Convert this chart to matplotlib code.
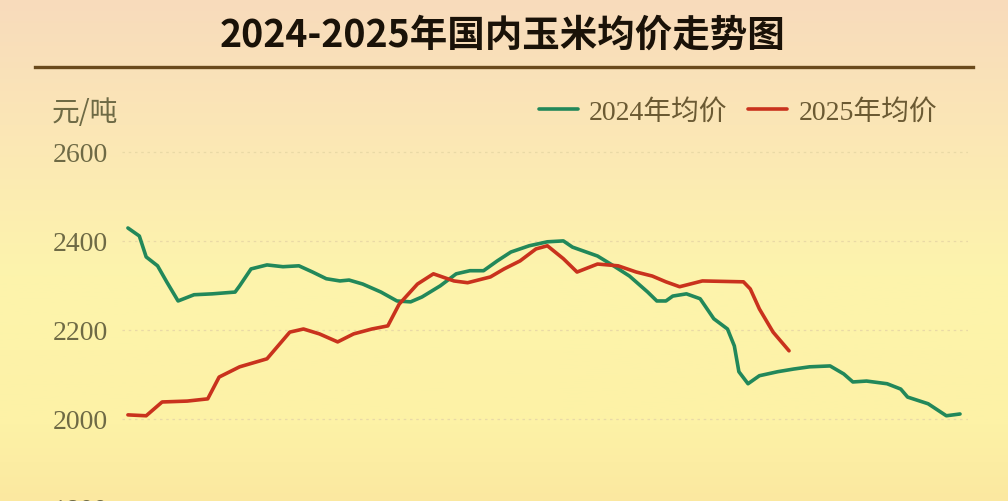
"""
2024-2025 domestic corn average price trend (元/吨), redrawn from a screenshot.
Days are day-of-year positions read off the picture; prices read against the y grid.
"""

import matplotlib
matplotlib.use("Agg")
import matplotlib.pyplot as plt
import numpy as np
from matplotlib.colors import LinearSegmentedColormap

# 2024 full-year average price
DAYS_2024 = [0, 5, 8, 13, 17, 22, 29, 37, 47, 49, 54, 61, 68, 75, 81, 87, 93, 97,
             103, 111, 118, 124, 129, 137, 144, 150, 156, 162, 168, 176, 184, 191,
             195, 206, 213, 220, 228, 232, 236, 239, 245, 251, 257, 263, 266, 268,
             272, 277, 285, 292, 299, 308, 314, 318, 324, 333, 339, 342, 351, 359, 365]
PRICE_2024 = [2429, 2411, 2364, 2344, 2308, 2265, 2279, 2281, 2285, 2299, 2337, 2346,
              2342, 2344, 2330, 2315, 2310, 2312, 2303, 2285, 2265, 2263, 2274, 2299,
              2326, 2333, 2333, 2355, 2375, 2389, 2398, 2400, 2386, 2366, 2344, 2321,
              2285, 2265, 2265, 2276, 2281, 2270, 2225, 2202, 2164, 2106, 2079, 2097,
              2106, 2112, 2117, 2119, 2101, 2083, 2085, 2079, 2067, 2049, 2034, 2007, 2011]

# 2025 year-to-date average price
DAYS_2025 = [0, 8, 15, 26, 35, 40, 49, 61, 71, 77, 84, 92, 99, 107, 114, 119, 127,
             134, 143, 149, 159, 165, 172, 179, 184, 191, 197, 206, 215, 223, 230,
             236, 242, 252, 270, 273, 277, 283, 290]
PRICE_2025 = [2009, 2007, 2038, 2040, 2045, 2094, 2117, 2135, 2195, 2202, 2191, 2173,
              2191, 2202, 2209, 2258, 2303, 2326, 2310, 2306, 2319, 2337, 2355, 2382,
              2389, 2360, 2330, 2348, 2344, 2330, 2321, 2308, 2297, 2310, 2308, 2292,
              2247, 2195, 2153]

Y_TICKS = [1800, 2000, 2200, 2400, 2600]
SERIES_LABELS = ["2024年均价", "2025年均价"]
TITLE = "2024-2025年国内玉米均价走势图"
Y_UNIT = "元/吨"

GREEN = "#22885a"
RED = "#c9321d"
TICK_COLOR = "#6e6a45"
CJK = ["Liberation Serif", "Noto Sans CJK SC", "DejaVu Sans"]

W, H = 1008, 502

fig = plt.figure(figsize=(W / 100, H / 100), dpi=100)

# background: peach at the top fading to pale yellow, a touch warmer at the bottom
bg = fig.add_axes([0, 0, 1, 1], zorder=-10)
bg_cmap = LinearSegmentedColormap.from_list(
    "bg", [(0.0, "#f8dbbc"), (0.25, "#fbe6b6"), (0.55, "#fdf4ac"),
           (0.85, "#fdf2a6"), (1.0, "#fbe8a0")])
grad = np.linspace(0, 1, 256).reshape(-1, 1)
bg.imshow(grad, aspect="auto", cmap=bg_cmap, extent=[0, 1, 0, 1], origin="upper")
bg.set_axis_off()

# title + rule
fig.text(503 / W, 1 - 35 / H, TITLE, ha="center", va="center", fontsize=27,
         fontweight="bold", family=["Noto Sans CJK SC"], color="#1a1208")
fig.add_artist(plt.Line2D([35 / W, 973 / W], [1 - 68 / H, 1 - 68 / H],
                          color="#6a4a1c", linewidth=2.4))
fig.text(52 / W, 1 - 113 / H, Y_UNIT, ha="left", va="center", fontsize=20,
         family=["Noto Sans CJK SC"], color=TICK_COLOR)

# plot area: x 122..968 px, y 140..520 px (runs past the bottom edge like the source)
ax = fig.add_axes([122 / W, -18 / H, 846 / W, 380 / H])
ax.patch.set_alpha(0)
ax.set_xlim(-2.6, 368.5)
ax.set_ylim(1775, 2629)

ax.plot(DAYS_2024, PRICE_2024, color=GREEN, linewidth=2.6, label=SERIES_LABELS[0],
        solid_capstyle="round", solid_joinstyle="round")
ax.plot(DAYS_2025, PRICE_2025, color=RED, linewidth=2.6, label=SERIES_LABELS[1],
        solid_capstyle="round", solid_joinstyle="round")

ax.set_yticks(Y_TICKS)
ax.set_yticklabels([str(t) for t in Y_TICKS], family=["Liberation Serif"],
                   fontsize=20, color=TICK_COLOR)
ax.tick_params(axis="y", length=0, pad=10)
ax.set_xticks([])
ax.grid(axis="y", color="#e9d9a6", linestyle=(0, (2, 3)), linewidth=0.9)
for s in ax.spines.values():
    s.set_visible(False)

leg = fig.legend(loc="center right", bbox_to_anchor=(951 / W, 1 - 113 / H), ncol=2,
                 frameon=False, borderpad=0, handlelength=1.4, handletextpad=0.4,
                 columnspacing=0.75, prop={"family": CJK, "size": 20})
for t in leg.get_texts():
    t.set_color("#6b5a33")

fig.savefig("out.png", dpi=100)
